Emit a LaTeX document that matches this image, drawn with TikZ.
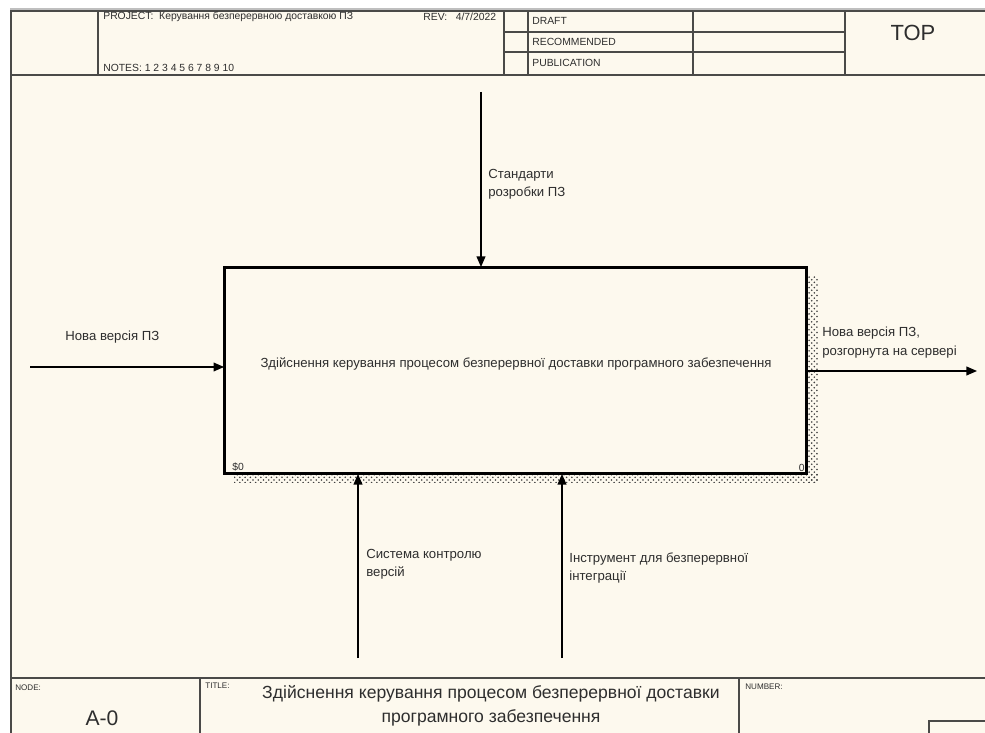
\documentclass[tikz,border=0pt]{standalone}
\usepackage{fontspec}
\setmainfont{Liberation Sans}
\usetikzlibrary{arrows.meta,patterns}
\definecolor{formBg}{HTML}{FDF9EE}
\definecolor{formLine}{HTML}{4A4A48}
\definecolor{formText}{HTML}{2E2E2E}

\begin{document}
\begin{tikzpicture}[
    x=0.02cm,y=-0.02cm,
    every node/.style={font=\fontsize{7.5}{10.5}\selectfont,text=formText,inner sep=0pt},
    formline/.style={draw=formLine,line width=0.8pt},
    hdrtext/.style={font=\fontsize{5.9}{7}\selectfont},
    cornertext/.style={font=\fontsize{4.6}{6}\selectfont},
    activity/.style={draw=black,line width=1.7pt,fill=formBg,minimum width=11.66cm,minimum height=4.14cm,outer sep=0pt},
    shadowfill/.style={pattern=crosshatch dots,pattern color=black!75},
    flow/.style={-{Triangle[length=6pt,width=5pt]},draw=black,line width=0.75pt},
    arrlabel/.style={anchor=north west,align=left}
]
\fill[white] (0,0) rectangle (985,733);
\useasboundingbox (0,0) rectangle (985,733);
\fill[formBg] (11,10) rectangle (985,733);
\draw[black!25,line width=0.6pt] (10,9) -- (985,9);

% form frame
\draw[formline] (985,11) -- (11,11) -- (11,733);
\draw[formline] (11,75) -- (985,75);
\draw[formline] (98,11) -- (98,75);
\draw[formline] (504,11) -- (504,75);
\draw[formline] (528,11) -- (528,75);
\draw[formline] (693,11) -- (693,75);
\draw[formline] (845,11) -- (845,75);
\draw[formline] (504,32) -- (845,32);
\draw[formline] (504,52) -- (845,52);
\draw[formline] (11,678) -- (985,678);
\draw[formline] (200,678) -- (200,733);
\draw[formline] (739,678) -- (739,733);
\draw[formline] (929,733) -- (929,721) -- (985,721);

\node[hdrtext,anchor=west] (project) at (103,17) {PROJECT:\ \ Керування безперервною доставкою ПЗ};
\node[hdrtext,anchor=west] (rev) at (423,17) {REV:\ \ \ 4/7/2022};
\node[hdrtext,anchor=west] (notes) at (103,68) {NOTES:\ 1 2 3 4 5 6 7 8 9 10};
\node[hdrtext,anchor=west] (draft) at (532,21) {DRAFT};
\node[hdrtext,anchor=west] (recommended) at (532,42) {RECOMMENDED};
\node[hdrtext,anchor=west] (publication) at (532,63) {PUBLICATION};
\node[font=\fontsize{12.5}{14}\selectfont] (top) at (913,33) {TOP};

% activity box
\fill[shadowfill] (807,277) rectangle (818,483);
\fill[shadowfill] (234,474) rectangle (818,483);
\node[activity] (act) at (515.5,370.5) {};
\node (actname) at (516,364) {Здійснення керування процесом безперервної доставки програмного забезпечення};
\node[hdrtext,anchor=south west] (actref) at (232,472) {\$0};
\node[hdrtext,anchor=south east] (actno) at (805,472) {0};

% arrows
\coordinate (ctrltop) at (481,92);
\coordinate (inleft) at (30,367);
\coordinate (outright) at (977,371);
\coordinate (mechvcs) at (358,658);
\coordinate (mechci) at (562,658);
\draw[flow] (ctrltop) -- (ctrltop |- act.north);
\draw[flow] (inleft) -- (inleft -| act.west);
\draw[flow] (outright -| act.east) -- (outright);
\draw[flow] (mechvcs) -- (mechvcs |- act.south);
\draw[flow] (mechci) -- (mechci |- act.south);

\node[arrlabel] (ctrllbl) at (488,169) {Стандарти\\розробки ПЗ};
\node[anchor=west] (inlbl) at (65,337) {Нова версія ПЗ};
\node[arrlabel] (outlbl) at (822,327) {Нова версія ПЗ,\\розгорнута на сервері};
\node[arrlabel] (vcslbl) at (366,549) {Система контролю\\версій};
\node[arrlabel] (cilbl) at (569,552) {Інструмент для безперервної\\інтеграції};

% footer
\node[cornertext,anchor=west] (nodelbl) at (15,688) {NODE:};
\node[font=\fontsize{12}{14}\selectfont] (nodeno) at (102,718) {A-0};
\node[cornertext,anchor=west] (titlelbl) at (205,686) {TITLE:};
\node[font=\fontsize{10}{13.6}\selectfont,align=center] (title) at (491,706) {Здійснення керування процесом безперервної доставки\\програмного забезпечення};
\node[cornertext,anchor=west] (numberlbl) at (745,687) {NUMBER:};
\end{tikzpicture}
\end{document}
